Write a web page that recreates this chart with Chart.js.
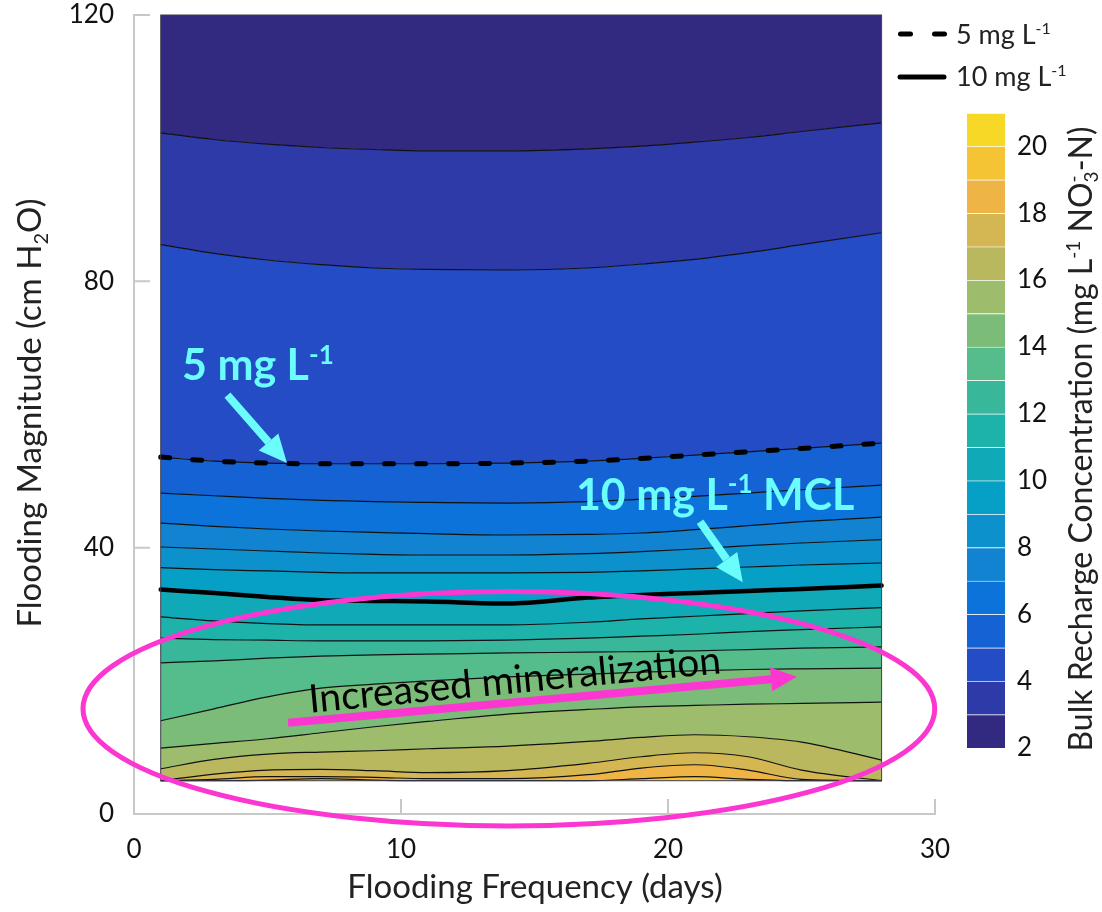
<!DOCTYPE html>
<html>
<head>
<meta charset="utf-8">
<title>Bulk recharge concentration</title>
<script src="https://cdn.jsdelivr.net/npm/chart.js@4.4.0/dist/chart.umd.min.js"></script>
<style>
  html, body { margin: 0; background: #fff; }
  #wrap { position: relative; width: 1102px; height: 912px; }
  canvas { position: absolute; top: 0; }
</style>
</head>
<body>
<div id="wrap">
  <canvas id="contour" width="1102" height="912" style="left:0"></canvas>
  <canvas id="colorbar" width="162" height="912" style="left:940px"></canvas>
</div>
<script>
const FONT = 'Lato, "Open Sans", sans-serif';
const INK = '#111111';
const CYAN = '#6bfcfc';
const PINK = '#fc36d0';

// flooding frequency (days) where each contour was read
const freqDays = [1, 3, 5, 7, 9, 11, 14, 17, 19, 21, 23, 25, 28];

// flooding magnitude (cm H2O) of each concentration contour, mg/L
const lvl3  = [102.3, 101.3, 100.6, 100.1, 99.8, 99.6, 99.6, 99.9, 100.3, 100.9, 101.6, 102.5, 103.8];
const lvl4  = [85.5, 84.2, 83.2, 82.5, 82.0, 81.8, 81.7, 82.0, 82.6, 83.3, 84.3, 85.5, 87.3];
const lvl5  = [53.6, 53.0, 52.7, 52.6, 52.6, 52.6, 52.7, 53.0, 53.4, 53.9, 54.4, 54.9, 55.7];
const lvl6  = [48.2, 47.8, 47.4, 47.1, 46.9, 46.8, 46.7, 46.9, 47.3, 47.7, 48.2, 48.7, 49.4];
const lvl7  = [43.7, 43.2, 42.8, 42.5, 42.3, 42.1, 41.9, 42.0, 42.2, 42.7, 43.3, 43.9, 44.6];
const lvl8  = [40.1, 39.8, 39.5, 39.2, 39.0, 38.9, 38.9, 39.1, 39.4, 39.8, 40.3, 40.7, 41.2];
const lvl9  = [37.0, 36.7, 36.5, 36.3, 36.2, 36.2, 36.2, 36.3, 36.5, 36.8, 37.1, 37.4, 37.7];
const lvl10 = [33.7, 33.2, 32.6, 32.1, 32.0, 31.9, 31.6, 32.5, 32.9, 33.2, 33.5, 33.8, 34.3];
const lvl11 = [29.6, 29.0, 28.6, 28.4, 28.4, 28.4, 28.4, 28.8, 29.3, 29.7, 30.1, 30.5, 31.0];
const lvl12 = [26.4, 26.2, 26.1, 26.0, 26.0, 26.0, 26.1, 26.4, 26.7, 27.0, 27.4, 27.7, 28.1];
const lvl13 = [22.7, 23.0, 23.4, 23.7, 23.9, 24.0, 24.2, 24.3, 24.4, 24.5, 24.7, 24.9, 25.1];
const lvl14 = [14.0, 15.8, 17.6, 18.9, 19.5, 20.0, 20.6, 21.0, 21.3, 21.5, 21.7, 21.8, 21.9];
const lvl15 = [9.9, 10.6, 11.3, 12.2, 13.1, 13.9, 15.0, 15.7, 16.1, 16.3, 16.5, 16.6, 16.8];
const lvl16 = [6.8, 8.2, 9.0, 9.3, 9.5, 9.8, 10.2, 10.9, 11.5, 11.9, 11.6, 10.8, 8.1];
const lvl17 = [5, 6.0, 6.6, 6.7, 6.5, 6.2, 6.5, 7.6, 8.6, 9.2, 8.6, 6.6, 5];
const lvl18 = [5, 5.2, 5.6, 5.6, 5.5, 5.3, 5.3, 5.9, 6.9, 7.4, 6.6, 5.2, 5];
const lvl19 = [5, 5, 5.1, 5.3, 5.1, 5, 5, 5, 5.3, 5.6, 5.2, 5, 5];

const contourLines = [lvl3, lvl4, lvl5, lvl6, lvl7, lvl8, lvl9, lvl10, lvl11,
                      lvl12, lvl13, lvl14, lvl15, lvl16, lvl17, lvl18, lvl19];

// modelled region limits
const regionTop = 120;
const regionBottom = 5;

// colour of each 1 mg/L band, from 2-3 up to 20-21
const cbEdges = [2, 3, 4, 5, 6, 7, 8, 9, 10, 11, 12, 13, 14, 15, 16, 17, 18, 19, 20, 21];
const bandColors = ['#322a81', '#2d3aa8', '#244cc4', '#1562d5', '#0b73da', '#1283d1', '#0d91cc',
                    '#06a0c6', '#10a9b8', '#1db2aa', '#38b79a', '#55bc8b', '#7bbc79', '#9dbc6c',
                    '#bab85f', '#d4b652', '#eeb546', '#f4c434', '#f8d826'];

const xTicks = [0, 10, 20, 30];
const yTicks = [0, 40, 80, 120];
const cbTicks = [2, 4, 6, 8, 10, 12, 14, 16, 18, 20];

function pts(values) {
    return freqDays.map((d, i) => ({ x: d, y: values[i] }));
}

// text with superscripts / subscripts
function richText(ctx, parts, x, y, o) {
    const size = o.size;
    const fontOf = m => (o.weight || 'normal') + ' ' + (m ? Math.round(size * 0.6) : size) + 'px ' + FONT;
    const widths = parts.map(([t, m]) => { ctx.font = fontOf(m); return ctx.measureText(t).width; });
    let total = 0, held = 0;
    parts.forEach(([t, m], i) => {
        if (m === 'subk') { held = widths[i]; return; }
        total += Math.max(widths[i], held); held = 0;
    });
    let cx = o.align === 'center' ? x - total / 2 : (o.align === 'right' ? x - total : x);
    ctx.fillStyle = o.color;
    ctx.textAlign = 'left';
    ctx.textBaseline = 'alphabetic';
    held = 0;
    parts.forEach(([t, m], i) => {
        ctx.font = fontOf(m);
        const dy = m === 'sup' ? -size * 0.38 : (m ? size * 0.2 : 0);
        ctx.fillText(t, cx, y + dy);
        if (m === 'subk') { held = widths[i]; return; }
        cx += Math.max(widths[i], held); held = 0;
    });
}

function arrow(ctx, x1, y1, x2, y2, w, headLen, headHalf, color) {
    const a = Math.atan2(y2 - y1, x2 - x1);
    const bx = x2 - Math.cos(a) * headLen, by = y2 - Math.sin(a) * headLen;
    ctx.strokeStyle = color;
    ctx.fillStyle = color;
    ctx.lineWidth = w;
    ctx.lineCap = 'butt';
    ctx.beginPath(); ctx.moveTo(x1, y1); ctx.lineTo(bx, by); ctx.stroke();
    ctx.beginPath();
    ctx.moveTo(x2, y2);
    ctx.lineTo(bx - Math.sin(a) * headHalf, by + Math.cos(a) * headHalf);
    ctx.lineTo(bx + Math.sin(a) * headHalf, by - Math.cos(a) * headHalf);
    ctx.closePath(); ctx.fill();
}

const datasets = [];
datasets.push({ data: pts(freqDays.map(() => regionTop)), borderColor: 'transparent', fill: false });
contourLines.forEach((vals, i) => {
    datasets.push({ data: pts(vals), borderColor: INK, borderWidth: 1.2, fill: '-1', backgroundColor: bandColors[i] });
});
datasets.push({ data: pts(freqDays.map(() => regionBottom)), borderColor: 'transparent', fill: '-1',
                backgroundColor: bandColors[contourLines.length] });
// highlighted 5 and 10 mg/L contours
datasets.push({ data: pts(lvl5), borderColor: '#000', borderWidth: 5, borderDash: [9, 23],
                borderCapStyle: 'round', fill: false, order: -1 });
datasets.push({ data: pts(lvl10), borderColor: '#000', borderWidth: 4.5, borderCapStyle: 'round', fill: false, order: -1 });

const decor = {
    id: 'decor',
    afterDraw(chart) {
        const { ctx, scales: { x, y } } = chart;
        const X = v => x.getPixelForValue(v), Y = v => y.getPixelForValue(v);
        ctx.save();

        // frame of the modelled region
        ctx.strokeStyle = '#3c3c4c';
        ctx.lineWidth = 1;
        ctx.strokeRect(X(freqDays[0]), Y(regionTop), X(freqDays[freqDays.length - 1]) - X(freqDays[0]), Y(regionBottom) - Y(regionTop));

        // inward tick marks
        ctx.strokeStyle = '#c8c8c8';
        ctx.lineWidth = 2;
        ctx.beginPath();
        yTicks.forEach(v => { ctx.moveTo(X(0), Y(v)); ctx.lineTo(X(0) + 16, Y(v)); });
        xTicks.forEach(v => { ctx.moveTo(X(v), Y(0)); ctx.lineTo(X(v), Y(0) - 15); });
        ctx.stroke();

        // axis titles
        richText(ctx, [['Flooding Frequency (days)', '']], 535, 898, { size: 33, color: '#222', align: 'center' });
        ctx.save();
        ctx.translate(41, 413);
        ctx.rotate(-Math.PI / 2);
        richText(ctx, [['Flooding Magnitude (cm H', ''], ['2', 'sub'], ['O)', '']], 0, 0, { size: 33, color: '#222', align: 'center' });
        ctx.restore();

        // legend
        ctx.strokeStyle = '#000';
        ctx.lineWidth = 5;
        ctx.lineCap = 'round';
        ctx.setLineDash([10, 24]);
        ctx.beginPath(); ctx.moveTo(900.5, 34); ctx.lineTo(946, 34); ctx.stroke();
        ctx.setLineDash([]);
        ctx.beginPath(); ctx.moveTo(900, 77); ctx.lineTo(944, 77); ctx.stroke();
        richText(ctx, [['5 mg L', ''], ['-1', 'sup']], 956, 44, { size: 27, color: '#222' });
        richText(ctx, [['10 mg L', ''], ['-1', 'sup']], 956, 86, { size: 27, color: '#222' });

        // annotations
        richText(ctx, [['5 mg L', ''], ['-1', 'sup']], X(1.8), Y(65.2), { size: 43, weight: 'bold', color: CYAN });
        arrow(ctx, X(3.5), Y(62.9), X(5.73), Y(52.7), 8, 28, 13, CYAN);
        richText(ctx, [['10 mg L', ''], ['-1', 'sup'], [' MCL', '']], X(16.55), Y(45.7), { size: 43, weight: 'bold', color: CYAN });
        arrow(ctx, X(21.2), Y(43.9), X(22.8), Y(34.8), 8, 28, 13, CYAN);

        ctx.strokeStyle = PINK;
        ctx.lineWidth = 5;
        ctx.beginPath();
        ctx.ellipse(X(14.04), Y(15.8), X(14.04 + 15.95) - X(14.04), Y(0) - Y(17.6), 0, 0, Math.PI * 2);
        ctx.stroke();
        arrow(ctx, X(5.77), Y(13.7), X(24.83), Y(20.6), 8, 26, 12, PINK);

        ctx.save();
        ctx.translate(X(6.59), Y(15.2));
        ctx.rotate(-5.5 * Math.PI / 180);
        richText(ctx, [['Increased mineralization', '']], 0, 0, { size: 39, color: '#000' });
        ctx.restore();

        ctx.restore();
    }
};

new Chart(document.getElementById('contour').getContext('2d'), {
    type: 'line',
    data: { datasets: datasets },
    options: {
        responsive: false,
        animation: false,
        events: [],
        layout: { padding: { top: 15, right: 167, left: 0, bottom: 0 } },
        elements: {
            point: { radius: 0 },
            line: { cubicInterpolationMode: 'monotone' }
        },
        scales: {
            x: {
                type: 'linear', min: 0, max: 30,
                afterBuildTicks: ax => { ax.ticks = xTicks.map(v => ({ value: v })); },
                afterFit: s => { s.height = 98; s.paddingLeft = 0; s.paddingRight = 0; },
                ticks: { font: { family: FONT, size: 26 }, color: INK, padding: 20, maxRotation: 0, autoSkip: false },
                grid: { display: false, drawTicks: false },
                border: { display: true, color: '#c8c8c8', width: 2 }
            },
            y: {
                type: 'linear', min: 0, max: 120,
                afterBuildTicks: ax => { ax.ticks = yTicks.map(v => ({ value: v })); },
                afterFit: s => { s.width = 134; s.paddingTop = 0; s.paddingBottom = 0; },
                ticks: { font: { family: FONT, size: 26 }, color: INK, padding: 20, autoSkip: false },
                grid: { display: false, drawTicks: false },
                border: { display: true, color: '#c8c8c8', width: 2 }
            }
        },
        plugins: {
            legend: { display: false },
            tooltip: { enabled: false },
            filler: { drawTime: 'beforeDatasetsDraw' }
        }
    },
    plugins: [decor]
});

const cbTitle = {
    id: 'cbTitle',
    afterDraw(chart) {
        const ctx = chart.ctx;
        ctx.save();
        ctx.translate(152, 439);
        ctx.rotate(-Math.PI / 2);
        richText(ctx, [['Bulk Recharge Concentration (mg L', ''], ['-1', 'sup'], [' NO', ''], ['3', 'subk'], ['-', 'sup'], ['-N)', '']],
                 0, 0, { size: 32, color: '#222', align: 'center' });
        ctx.restore();
    }
};

new Chart(document.getElementById('colorbar').getContext('2d'), {
    type: 'bar',
    data: {
        labels: ['cb'],
        datasets: bandColors.map((c, i) => ({
            data: [[cbEdges[i], cbEdges[i + 1]]],
            backgroundColor: c,
            borderColor: 'rgba(255,255,255,0.3)',
            borderWidth: { top: 1, right: 0, bottom: 0, left: 0 },
            borderSkipped: false,
            grouped: false,
            barPercentage: 1,
            categoryPercentage: 1
        }))
    },
    options: {
        responsive: false,
        animation: false,
        events: [],
        layout: { padding: { left: 27, top: 113, bottom: 164, right: 0 } },
        scales: {
            x: { display: false },
            y: {
                position: 'right', min: 2, max: 21,
                afterBuildTicks: ax => { ax.ticks = cbTicks.map(v => ({ value: v })); },
                afterFit: s => { s.width = 97; s.paddingTop = 0; s.paddingBottom = 0; },
                ticks: { font: { family: FONT, size: 26 }, color: INK, padding: 12 },
                grid: { display: false, drawTicks: false },
                border: { display: false }
            }
        },
        plugins: { legend: { display: false }, tooltip: { enabled: false } }
    },
    plugins: [cbTitle]
});
</script>
</body>
</html>
